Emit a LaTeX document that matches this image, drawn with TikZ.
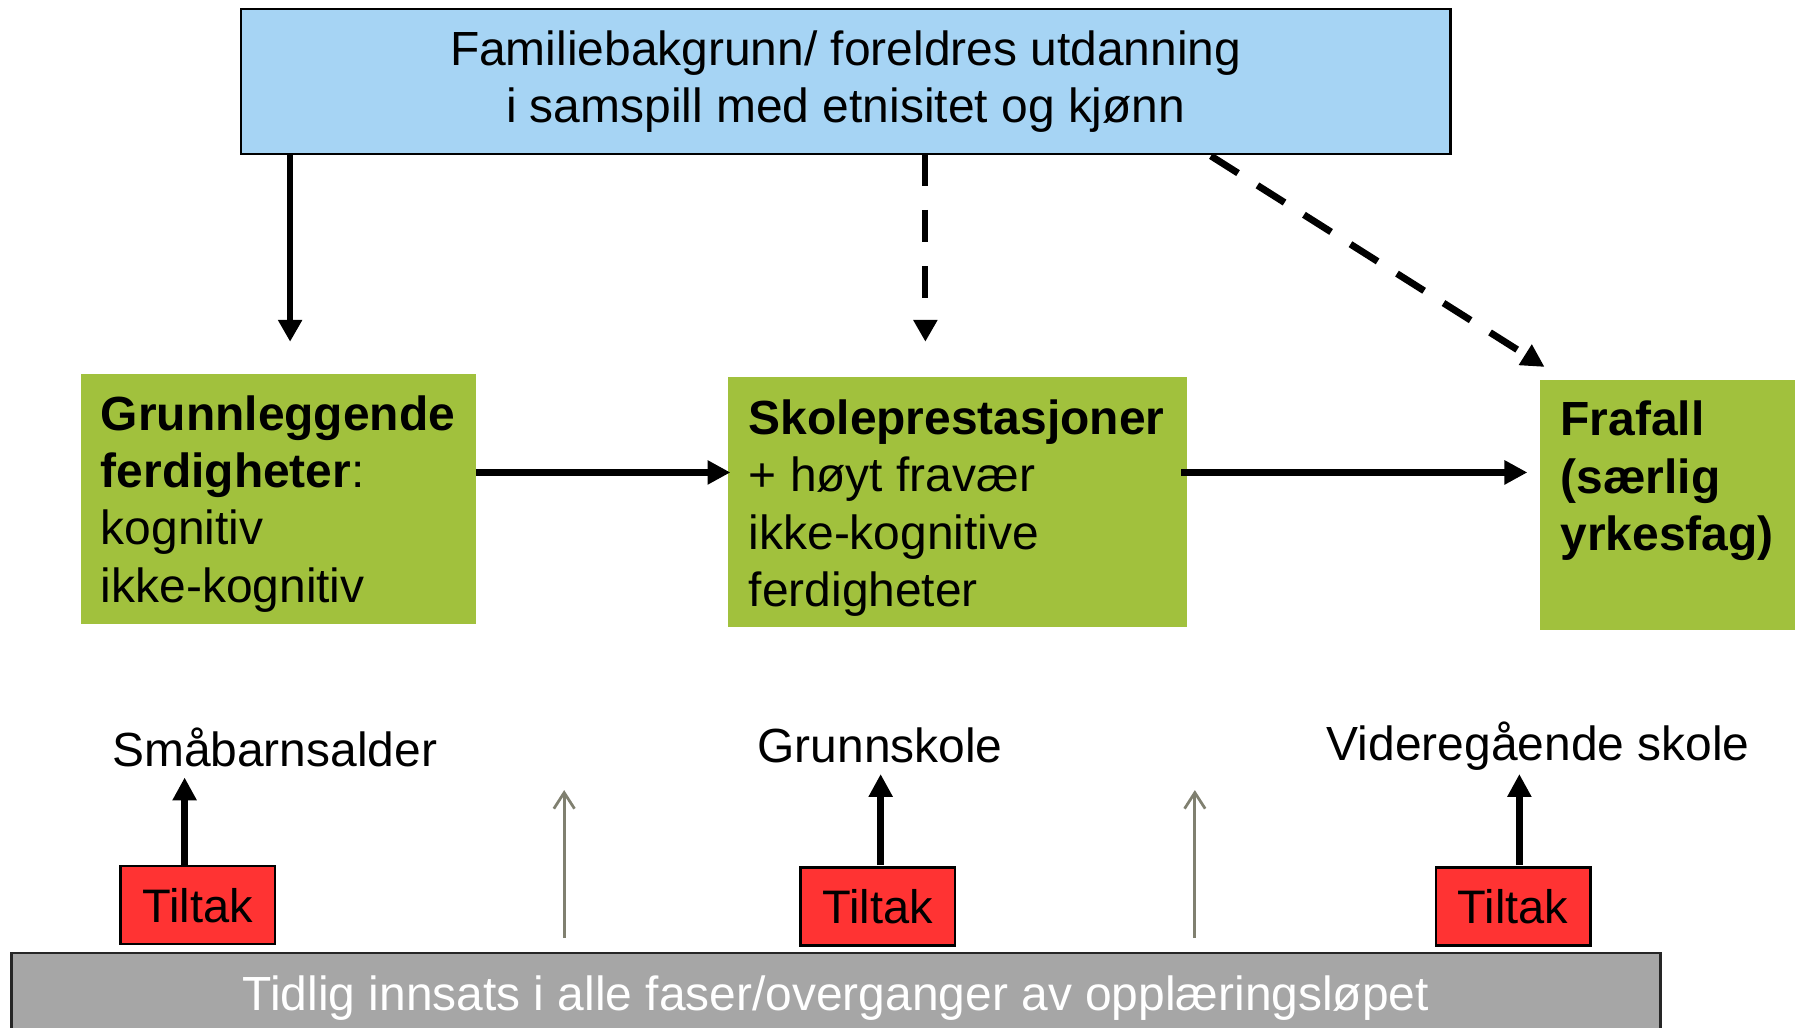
\documentclass[tikz,border=0pt]{standalone}
\usepackage{fontspec}
\setmainfont{Liberation Sans}
\usetikzlibrary{arrows.meta,calc}
\definecolor{topblue}{RGB}{166,212,244}
\definecolor{boxgreen}{RGB}{161,193,61}
\definecolor{tiltred}{RGB}{255,51,51}
\definecolor{basegrey}{RGB}{166,166,166}
\definecolor{thingrey}{RGB}{128,128,112}
\begin{document}
\begin{tikzpicture}[x=0.5pt,y=-0.5pt,
  box/.style={rectangle, inner sep=0pt, outer sep=0pt},
  bluebox/.style={box, fill=topblue, draw=black, line width=1pt, minimum width=527.5pt, minimum height=63pt, align=center, font=\fontsize{20.9}{25}\selectfont},
  greenbox/.style={box, fill=boxgreen, minimum height=109pt},
  redbox/.style={box, fill=tiltred, draw=black, line width=1pt, minimum width=67.5pt, minimum height=34pt, font=\fontsize{20.5}{24}\selectfont},
  greybox/.style={box, fill=basegrey, draw=black!85, line width=1.2pt, minimum width=719pt, minimum height=39.5pt, text=white, font=\fontsize{20.9}{25}\selectfont},
  txt/.style={inner sep=0pt, outer sep=0pt, font=\fontsize{20.9}{25}\selectfont},
  solidarr/.style={line width=2.6pt, -{Triangle[length=9.5pt,width=10pt]}},
  dasharr/.style={line width=2.6pt, dash pattern=on 14pt off 10.5pt, -{Triangle[length=9.5pt,width=10pt]}},
  diagarr/.style={line width=3pt, dash pattern=on 14pt off 10pt, -{Triangle[length=10pt,width=10pt]}},
  thickarr/.style={line width=3pt, -{Triangle[length=10pt,width=10pt]}},
  thinarr/.style={line width=1.2pt, draw=thingrey, -{Straight Barb[length=7pt,width=9pt]}}
]
\useasboundingbox (0,0) rectangle (1568,896);

% top box
\node[bluebox] (top) at (737.5,71) {Familiebakgrunn/ foreldres utdanning\\ i samspill med etnisitet og kjønn};

% green boxes
\node[greenbox, minimum width=172pt] (lg) at (243,435) {};
\node[greenbox, minimum width=200pt] (mg) at (835,438) {};
\node[greenbox, minimum width=111pt] (rg) at (1454,440) {};

% text (base anchor = baseline of the last line)
\node[txt, align=left, anchor=base west] (lgtext) at ($(lg.north west)+(17,199)$)
  {\textbf{Grunnleggende}\\ \textbf{ferdigheter}:\\ kognitiv\\ ikke-kognitiv};
\node[txt, align=left, anchor=base west] (mgtext) at ($(mg.north west)+(18,200)$)
  {\textbf{Skoleprestasjoner}\\ + høyt fravær\\ ikke-kognitive\\ ferdigheter};
\node[txt, align=left, anchor=base west] (rgtext) at ($(rg.north west)+(18,149)$)
  {\textbf{Frafall}\\ \textbf{(særlig}\\ \textbf{yrkesfag)}};

% phase labels
\node[txt, anchor=base] (l1) at (239.5,668) {Småbarnsalder};
\node[txt, anchor=base] (l2) at (767.5,665) {Grunnskole};
\node[txt, anchor=base] (l3) at (1341.5,663) {Videregående skole};

% Tiltak boxes
\node[redbox] (t1) at (172.5,789.5) {Tiltak};
\node[redbox] (t2) at (765.5,790.5) {Tiltak};
\node[redbox] (t3) at (1319.5,790.5) {Tiltak};

% bottom bar
\node[greybox] (gb) at (729,870.5) {Tidlig innsats i alle faser/overganger av opplæringsløpet};

% arrows from top box
\draw[solidarr] ($(top.south west)+(43,0)$) -- ($(lg.north west)+(182,-28)$);
\draw[dasharr] ($(top.south west)+(597,0)$) -- ($(mg.north west)+(172,-31)$);
\draw[diagarr] ($(top.south west)+(846,2)$) -- ($(rg.north west)+(4,-11)$);

% horizontal arrows
\draw[thickarr] ($(lg.north east)+(0,86)$) -- ($(mg.north west)+(2,83)$);
\draw[thickarr] ($(mg.north east)+(-5,83)$) -- ($(rg.north west)+(-11,81)$);

% Tiltak arrows
\draw[thickarr] ($(t1.north west)+(56,0)$) -- ($(l1.base)+(-78.5,10)$);
\draw[thickarr] ($(t2.north west)+(70,-2)$) -- ($(l2.base)+(0.5,10)$);
\draw[thickarr] ($(t3.north west)+(73,-2)$) -- ($(l3.base)+(-16.5,12)$);

% thin grey arrows
\draw[thinarr] ($(gb.north west)+(482,-13)$) -- ($(gb.north west)+(482,-142)$);
\draw[thinarr] ($(gb.north west)+(1032,-13)$) -- ($(gb.north west)+(1032,-142)$);
\end{tikzpicture}
\end{document}
